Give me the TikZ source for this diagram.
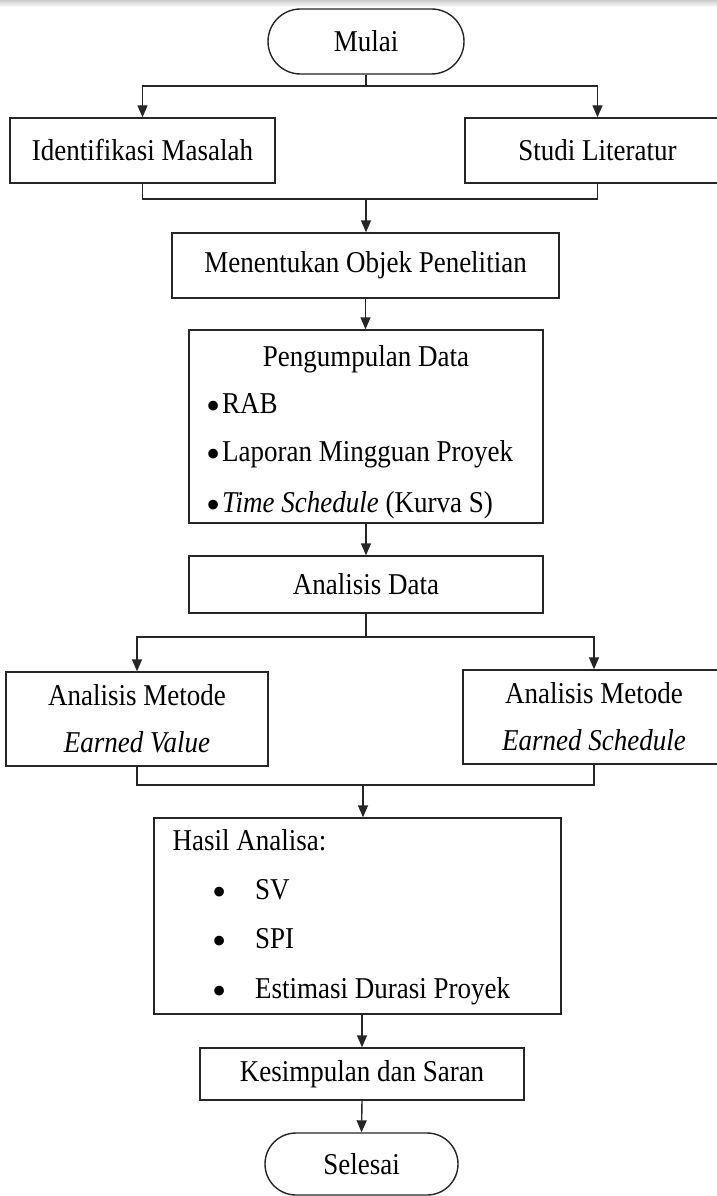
\documentclass[tikz,border=0pt]{standalone}
\usepackage{fontspec}
\setmainfont{Liberation Serif}
\usetikzlibrary{arrows.meta,shapes.misc}
\newcommand\tall[1]{\scalebox{1}[1.12]{#1}}
\newcommand\bul{\raisebox{-6.5pt}{\scalebox{1.5}{\textbullet}}}
\begin{document}
\begin{tikzpicture}[x=1pt,y=-1pt,
  box/.style={draw=black!85, line width=1.4pt, rectangle, inner sep=0pt, font=\fontsize{27}{33}\selectfont},
  term/.style={box, rounded rectangle},
  twoline/.style={box, align=center, font=\fontsize{27}{47}\selectfont},
  txt/.style={inner sep=0pt, anchor=base west, font=\fontsize{27}{33}\selectfont},
  ln/.style={draw=black!85, line width=1.4pt},
  arr/.style={ln, -{Triangle[length=12pt,width=10pt]}}]
\clip (0,0) rectangle (717,1196);
\fill[white] (0,0) rectangle (717,1196);
\fill[top color=black!20, bottom color=white] (0,0) rectangle (717,7);

\node[term, minimum width=196pt, minimum height=65pt] (mulai) at (366,41.5) {\tall{Mulai}};
\node[box, minimum width=265pt, minimum height=65pt] (ident) at (142.5,150.5) {\tall{Identifikasi Masalah}};
\node[box, minimum width=265pt, minimum height=65pt] (studi) at (597.5,150.5) {\tall{Studi Literatur}};
\node[box, minimum width=387pt, minimum height=65pt] (objek) at (365.5,265.5) {\tall{Menentukan Objek Penelitian}};

\node[box, minimum width=354pt, minimum height=193pt] (data) at (366,426.5) {};
\node[txt, anchor=base] (datat) at (366,366) {\tall{Pengumpulan Data}};
\node[txt] (d1) at (206,413) {\makebox[16pt][l]{\bul}\tall{RAB}};
\node[txt] (d2) at (206,461) {\makebox[16pt][l]{\bul}\tall{Laporan Mingguan Proyek}};
\node[txt] (d3) at (206,512) {\makebox[16pt][l]{\bul}\tall{\textit{Time Schedule} (Kurva S)}};

\node[box, minimum width=354pt, minimum height=57pt] (anal) at (366,584.5) {\tall{Analisis Data}};
\node[twoline, minimum width=262pt, minimum height=94pt] (ev) at (137,719) {\tall{Analisis Metode}\\\tall{\textit{Earned Value}}};
\node[twoline, minimum width=262pt, minimum height=94pt] (es) at (594,717) {\tall{Analisis Metode}\\\tall{\textit{Earned Schedule}}};

\node[box, minimum width=407pt, minimum height=196pt] (hasil) at (357.5,916) {};
\node[txt] (ht) at (172.5,850) {\tall{Hasil Analisa:}};
\node[txt] (h1) at (212,899) {\makebox[43pt][l]{\bul}\tall{SV}};
\node[txt] (h2) at (212,948) {\makebox[43pt][l]{\bul}\tall{SPI}};
\node[txt] (h3) at (212,998) {\makebox[43pt][l]{\bul}\tall{Estimasi Durasi Proyek}};

\node[box, minimum width=324pt, minimum height=52pt] (kes) at (362,1074) {\tall{Kesimpulan dan Saran}};
\node[term, minimum width=193pt, minimum height=62pt] (sel) at (361.5,1164) {\tall{Selesai}};

\coordinate (j1) at (366,86);
\draw[ln] (mulai.south) -- (j1);
\draw[arr] (j1) -| (ident.north);
\draw[arr] (j1) -| (studi.north);
\coordinate (j2) at (366,199);
\draw[ln] (ident.south) |- (j2) -| (studi.south);
\draw[arr] (j2) -- (j2 |- objek.north);
\draw[arr] (objek.south) -- (objek.south |- data.north);
\draw[arr] (data.south) -- (anal.north);
\coordinate (j3) at (366,637);
\draw[ln] (anal.south) -- (j3);
\draw[arr] (j3) -| (ev.north);
\draw[arr] (j3) -| (es.north);
\coordinate (j4) at (363,785);
\draw[ln] (ev.south) |- (j4) -| (es.south);
\draw[arr] (j4) -- (j4 |- hasil.north);
\draw[arr] (kes.north |- hasil.south) -- (kes.north);
\draw[arr] (kes.south) -- (sel.north);
\end{tikzpicture}
\end{document}
